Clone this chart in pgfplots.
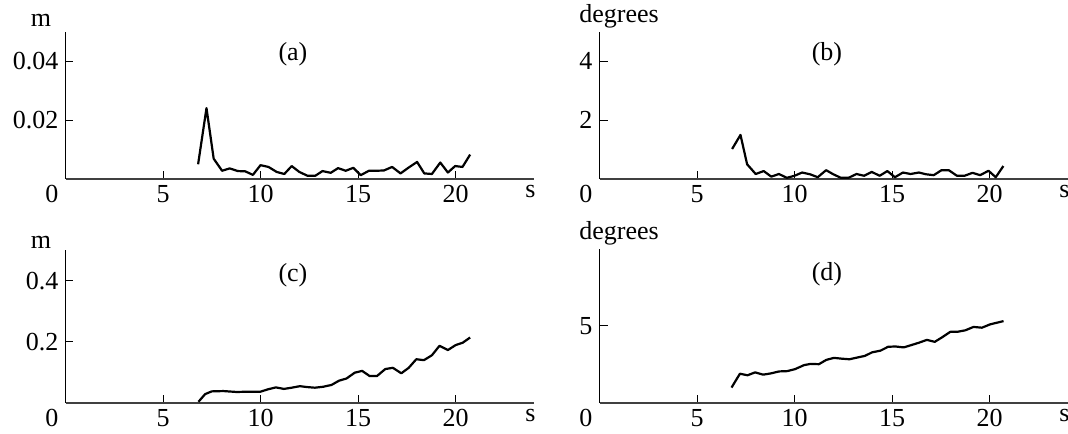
\documentclass[border=0pt]{standalone}
\usepackage{fontspec}
\setmainfont{Liberation Serif}
\usepackage{pgfplots}
\pgfplotsset{compat=1.18}

% one panel = 468 x ~150 px of the reference, 1 px = 0.5 bp
\newcommand{\panelfont}{\fontsize{13bp}{15bp}\selectfont}
\pgfplotsset{
  panel/.style={
    scale only axis, width=234bp,
    xmin=0, xmax=24, ymin=0,
    axis lines=left, axis line style={-, line width=0.6bp},
    x axis line style={black!75},
    tick align=inside, major tick length=4bp,
    tick style={black, line width=0.5bp},
    xtick={5,10,15,20},
    xticklabel style={yshift=0.5bp},
    tick label style={font=\panelfont},
    scaled y ticks=false,
    /pgf/number format/assume math mode=true,
    clip=false,
  },
  curve/.style={black, line width=1.1bp, no marks, line join=round},
}
\newcommand{\origin}{\node[anchor=north east, yshift=0.5bp] at (axis cs:0,0) {0};
  \node[anchor=north, yshift=0.5bp, xshift=-1.5bp] at (rel axis cs:1,0) {s};}

\begin{document}
\begin{tikzpicture}[font=\panelfont]
\useasboundingbox (0,0) rectangle (534bp,217bp);

% (a)
\begin{axis}[panel, at={(32.75bp,127.5bp)}, anchor=south west,
  height=73.5bp, ymax=0.05, ytick={0.02,0.04}, yticklabels={0.02,0.04}]
  \addplot[curve] coordinates {
    (6.80,0.0050) (7.23,0.0241) (7.60,0.0069) (8.03,0.0028) (8.42,0.0036)
    (8.84,0.0027) (9.22,0.0026) (9.61,0.0014) (10.00,0.0047) (10.41,0.0041)
    (10.83,0.0024) (11.22,0.0017) (11.60,0.0044) (11.99,0.0024) (12.41,0.0011)
    (12.81,0.0011) (13.18,0.0027) (13.60,0.0021) (13.98,0.0037) (14.37,0.0028)
    (14.76,0.0038) (15.14,0.0013) (15.56,0.0028) (15.95,0.0028) (16.33,0.0029)
    (16.75,0.0041) (17.18,0.0019) (17.60,0.0039) (18.03,0.0058) (18.40,0.0019)
    (18.79,0.0017) (19.22,0.0056) (19.61,0.0022) (19.98,0.0044) (20.36,0.0041)
    (20.75,0.0083)
  };
  \origin
  \node[anchor=base east, inner sep=0pt, xshift=-7bp, yshift=2.5bp] at (rel axis cs:0,1) {m};
  \node at (rel axis cs:0.486,0.85) {(a)};
\end{axis}

% (b)
\begin{axis}[panel, at={(299.75bp,127.5bp)}, anchor=south west,
  height=73.5bp, ymax=5, ytick={2,4}]
  \addplot[curve] coordinates {
    (6.80,1.02) (7.23,1.50) (7.57,0.50) (8.01,0.17) (8.42,0.27)
    (8.81,0.08) (9.20,0.17) (9.61,0.04) (10.00,0.11) (10.39,0.22)
    (10.80,0.16) (11.19,0.06) (11.62,0.30) (11.99,0.16) (12.38,0.04)
    (12.77,0.04) (13.18,0.17) (13.57,0.11) (13.96,0.24) (14.37,0.11)
    (14.76,0.27) (15.15,0.06) (15.56,0.22) (15.95,0.17) (16.38,0.22)
    (16.75,0.16) (17.14,0.13) (17.54,0.30) (17.91,0.30) (18.33,0.11)
    (18.72,0.11) (19.13,0.21) (19.52,0.13) (19.95,0.28) (20.32,0.06)
    (20.71,0.44)
  };
  \origin
  \node[anchor=base west, inner sep=0pt, xshift=-10.25bp, yshift=4.5bp] at (rel axis cs:0,1) {degrees};
  \node at (rel axis cs:0.486,0.85) {(b)};
\end{axis}

% (c)
\begin{axis}[panel, at={(32.75bp,15.5bp)}, anchor=south west,
  height=76.5bp, ymax=0.5, ytick={0.2,0.4}, yticklabels={0.2,0.4}]
  \addplot[curve] coordinates {
    (6.82,0.004) (7.16,0.029) (7.50,0.038) (8.10,0.039) (8.78,0.036)
    (9.38,0.037) (10.00,0.037) (10.40,0.045) (10.79,0.051) (11.20,0.046)
    (11.60,0.050) (12.02,0.055) (12.40,0.052) (12.79,0.050) (13.21,0.053)
    (13.64,0.059) (14.03,0.073) (14.41,0.080) (14.83,0.099) (15.21,0.105)
    (15.60,0.088) (15.97,0.088) (16.40,0.111) (16.79,0.115) (17.22,0.097)
    (17.60,0.115) (17.99,0.143) (18.38,0.140) (18.79,0.156) (19.18,0.187)
    (19.61,0.173) (20.00,0.189) (20.37,0.197) (20.75,0.214)
  };
  \origin
  \node[anchor=base east, inner sep=0pt, xshift=-7bp, yshift=0.5bp] at (rel axis cs:0,1) {m};
  \node at (rel axis cs:0.486,0.835) {(c)};
\end{axis}

% (d)
\begin{axis}[panel, at={(299.75bp,15.5bp)}, anchor=south west,
  height=77bp, ymax=10, ytick={5}]
  \addplot[curve] coordinates {
    (6.77,1.00) (7.20,1.90) (7.59,1.80) (7.98,1.99) (8.39,1.84)
    (8.78,1.92) (9.21,2.05) (9.63,2.07) (10.03,2.20) (10.49,2.46)
    (10.83,2.54) (11.25,2.52) (11.63,2.80) (12.02,2.93) (12.41,2.88)
    (12.82,2.84) (13.21,2.95) (13.61,3.06) (13.98,3.29) (14.41,3.40)
    (14.80,3.65) (15.18,3.67) (15.60,3.61) (15.99,3.76) (16.37,3.91)
    (16.79,4.10) (17.19,3.97) (17.60,4.29) (17.99,4.62) (18.38,4.63)
    (18.76,4.72) (19.18,4.94) (19.61,4.89) (20.04,5.11) (20.37,5.21)
    (20.72,5.32)
  };
  \origin
  \node[anchor=base west, inner sep=0pt, xshift=-10.25bp, yshift=4.5bp] at (rel axis cs:0,1) {degrees};
  \node at (rel axis cs:0.486,0.835) {(d)};
\end{axis}
\end{tikzpicture}
\end{document}
